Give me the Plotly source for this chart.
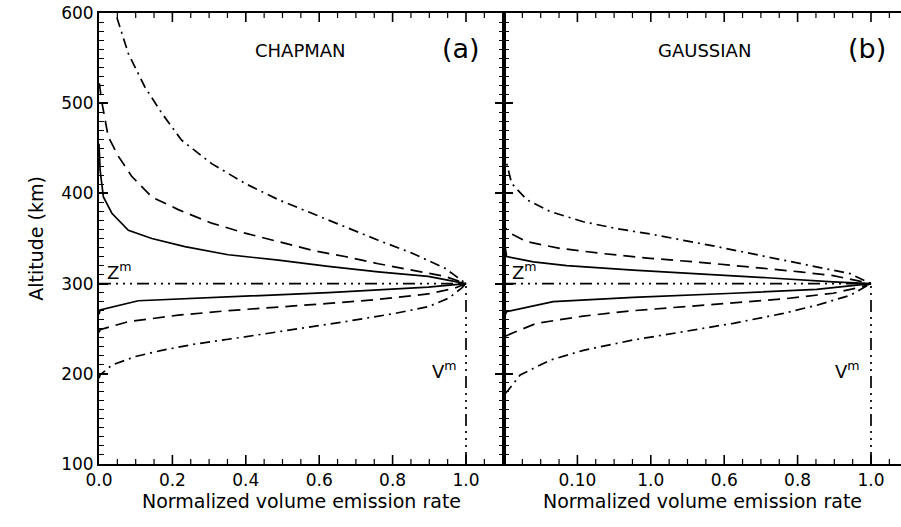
import plotly.graph_objects as go

# ---------------- data ----------------
# (a) CHAPMAN
chap_solid_v = [0.0, 0.003, 0.107, 0.352, 0.625, 0.897, 1.0, 0.897, 0.761, 0.625, 0.489, 0.352, 0.234, 0.144, 0.080, 0.035, 0.012, 0.003, 0.0]
chap_solid_z = [266, 270.7, 281, 285.5, 290, 296, 300, 308, 313, 319, 326, 332, 341, 350, 359, 378, 396, 426, 455]

chap_dash_v = [0.0, 0.003, 0.080, 0.216, 0.352, 0.489, 0.625, 0.761, 0.897, 0.970, 1.0, 0.943, 0.852, 0.761, 0.670, 0.580, 0.489, 0.398, 0.307, 0.216, 0.144, 0.089, 0.053, 0.025, 0.007, 0.0]
chap_dash_z = [246, 249, 257.8, 265, 270, 273.7, 278, 282.5, 288.5, 295, 300, 308, 315, 322, 330, 337, 346.5, 356, 367, 382, 396, 419, 441, 463, 503, 525]

chap_dd_v = [0.0, 0.003, 0.035, 0.098, 0.171, 0.262, 0.398, 0.534, 0.670, 0.807, 0.897, 0.952, 0.988, 1.0, 0.943, 0.852, 0.761, 0.670, 0.580, 0.489, 0.398, 0.307, 0.225, 0.171, 0.125, 0.080, 0.048, 0.045]
chap_dd_z = [195, 198.7, 209.7, 219, 226, 233, 241, 249, 257.8, 267, 274.4, 283.7, 295, 300, 317, 334, 348, 363, 378, 393, 411, 433, 459, 489, 518, 555, 596, 600]

# (b) GAUSSIAN
gaus_solid_v = [0.0, 0.007, 0.134, 0.352, 0.625, 0.852, 1.0, 0.897, 0.716, 0.534, 0.352, 0.171, 0.080, 0.007, 0.003, 0.0]
gaus_solid_z = [262, 268.8, 280, 284.8, 289.3, 293.7, 300, 302, 306.5, 310.6, 315, 320, 324, 330, 343, 350]

gaus_dash_v = [0.005, 0.025, 0.089, 0.216, 0.352, 0.489, 0.625, 0.761, 0.897, 0.970, 1.0, 0.897, 0.807, 0.670, 0.534, 0.398, 0.262, 0.153, 0.062, 0.016, 0.003]
gaus_dash_z = [242, 245.6, 256, 264, 270, 274.4, 278.8, 283, 289.3, 296, 300, 308.8, 313, 318.7, 323.6, 328, 333.6, 339, 346.5, 356, 362]

gaus_dd_v = [0.003, 0.012, 0.044, 0.125, 0.216, 0.352, 0.489, 0.625, 0.761, 0.852, 0.943, 1.0, 0.943, 0.852, 0.761, 0.670, 0.580, 0.489, 0.398, 0.307, 0.216, 0.125, 0.062, 0.021, 0.007, 0.0]
gaus_dd_z = [178, 182, 198.7, 215, 226, 237.5, 246.7, 256, 267, 276, 287, 300, 311, 318.7, 326, 333.6, 341, 348, 355, 361, 368.6, 380, 393, 411, 433, 445]

# reference lines: peak altitude Z^m and peak emission V^m
z_peak = 300
v_peak = 1.0
z_bottom = 100

# tick labels of panel (b) as printed in the original (relabelled ticks)
x_alias_b = {"0.0": "", "0.2": "0.10", "0.4": "1.0", "0.6": "0.6", "0.8": "0.8", "1.0": "1.0"}
x_major_step = 0.2
x_minor_step = 0.05

# ---------------- figure ----------------
FONT = "DejaVu Sans"
DASH = "12px,7px"
DASHDOT = "10px,5px,2px,5px"
DDDD = "12px,5px,2px,5px,2px,5px,2px,5px"
LW = 1.7

fig = go.Figure()

def add_panel(xa, ya, curves):
    for v, z, dash in curves:
        fig.add_trace(go.Scatter(x=v, y=z, mode="lines", xaxis=xa, yaxis=ya,
                                 line=dict(color="black", width=LW, dash=dash),
                                 showlegend=False, hoverinfo="skip"))
    fig.add_trace(go.Scatter(x=[0, v_peak], y=[z_peak, z_peak], mode="lines", xaxis=xa, yaxis=ya,
                             line=dict(color="black", width=LW, dash=DDDD), showlegend=False))
    fig.add_trace(go.Scatter(x=[v_peak, v_peak], y=[z_bottom, z_peak], mode="lines", xaxis=xa, yaxis=ya,
                             line=dict(color="black", width=LW, dash=DDDD), showlegend=False))

add_panel("x", "y", [(chap_solid_v, chap_solid_z, "solid"),
                     (chap_dash_v, chap_dash_z, DASH),
                     (chap_dd_v, chap_dd_z, DASHDOT)])
add_panel("x2", "y2", [(gaus_solid_v, gaus_solid_z, "solid"),
                       (gaus_dash_v, gaus_dash_z, DASH),
                       (gaus_dd_v, gaus_dd_z, DASHDOT)])

W, H = 901, 527
L, R, T, B = 99, 0, 13, 63
pw = W - L - R
ph = H - T - B
split = 405 / pw
xmax_a = 405 / 367
xmax_b = (pw - 405) / 367

common_x = dict(ticks="", showline=True, linewidth=2, linecolor="black", mirror=True,
                showgrid=False, zeroline=False,
                tickmode="linear", tick0=0, dtick=x_major_step, tickformat=".1f",
                tickfont=dict(family=FONT, size=17, color="black"),
                title=dict(text="Normalized volume emission rate",
                           font=dict(family=FONT, size=19, color="black"), standoff=4))
common_y = dict(range=[100, 600], tickmode="linear", tick0=100, dtick=100,
                ticks="inside", ticklen=9, tickwidth=1.5, tickcolor="black",
                showline=True, linewidth=2, linecolor="black",
                showgrid=False, zeroline=False,
                minor=dict(dtick=10, ticks="inside", ticklen=5, tickwidth=1.2,
                           tickcolor="black", showgrid=False),
                tickfont=dict(family=FONT, size=17, color="black"))

fig.update_layout(
    width=W, height=H,
    margin=dict(l=L, r=R, t=T, b=B),
    paper_bgcolor="white", plot_bgcolor="white",
    font=dict(family=FONT, color="black"),
    xaxis=dict(domain=[0, split], range=[0, xmax_a], anchor="y", **common_x),
    xaxis2=dict(domain=[split, 1], range=[0, xmax_b], anchor="y2",
                labelalias=x_alias_b, **common_x),
    yaxis=dict(domain=[0, 1], anchor="x", mirror="ticks",
               title=dict(text="Altitude (km)", font=dict(family=FONT, size=19, color="black"),
                          standoff=12), **common_y),
    yaxis2=dict(domain=[0, 1], anchor="x2", showticklabels=False, mirror=False, **common_y),
)

# x-axis tick marks (inside, bottom and top) placed through the axis scale
shapes = []
for xref, yref, xmax in (("x", "y domain", xmax_a), ("x2", "y2 domain", xmax_b)):
    n = int(xmax / x_minor_step + 1e-9)
    for k in range(1, n + 1):
        v = k * x_minor_step
        major = (k % round(x_major_step / x_minor_step) == 0)
        ln = (9 if major else 5) / ph
        w = 1.6 if major else 1.2
        for y0, y1 in ((0, ln), (1 - ln, 1)):
            shapes.append(dict(type="line", xref=xref, yref=yref, x0=v, x1=v, y0=y0, y1=y1,
                               line=dict(color="black", width=w), layer="above"))
fig.update_layout(shapes=shapes)

ann_font = dict(family=FONT, size=18, color="black")
big_font = dict(family=FONT, size=27, color="black")
sup_font = dict(family=FONT, size=18, color="black")
annotations = [
    dict(text="CHAPMAN", xref="x", yref="y", x=0.55, y=558, font=ann_font),
    dict(text="(a)", xref="x", yref="y", x=0.985, y=561, font=big_font),
    dict(text="GAUSSIAN", xref="x2", yref="y2", x=0.545, y=558, font=ann_font),
    dict(text="(b)", xref="x2", yref="y2", x=0.990, y=561, font=big_font),
    dict(text="Z<sup>m</sup>", xref="x", yref="y", x=0.015, y=299, xanchor="left", yanchor="bottom",
         font=sup_font),
    dict(text="Z<sup>m</sup>", xref="x2", yref="y2", x=0.015, y=299, xanchor="left", yanchor="bottom",
         font=sup_font),
    dict(text="V<sup>m</sup>", xref="x", yref="y", x=0.980, y=204, xanchor="right", yanchor="middle",
         font=sup_font),
    dict(text="V<sup>m</sup>", xref="x2", yref="y2", x=0.975, y=204, xanchor="right", yanchor="middle",
         font=sup_font),
]
for a in annotations:
    a["showarrow"] = False
fig.update_layout(annotations=annotations)

fig.write_html("out.html")
